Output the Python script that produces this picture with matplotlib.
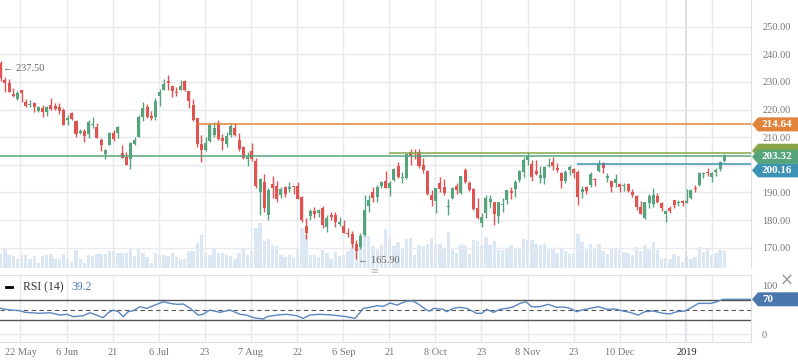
import matplotlib
matplotlib.use("Agg")
import matplotlib.pyplot as plt
from matplotlib.lines import Line2D
from matplotlib.patches import Polygon
import numpy as np

# daily OHLC, oldest first
opens = [
    237.0, 230.7, 229.6, 225.6, 223.7, 227.1, 222.7, 221.6, 222.3, 219.5,
    220.4, 219.3, 221.6, 221.4, 221.0, 219.8, 216.1, 218.8, 216.0, 211.6,
    212.4, 211.2, 214.3, 213.8, 209.0, 203.9, 207.0, 211.7, 211.5, 204.4,
    203.0, 202.0, 207.5, 210.2, 217.2, 220.8, 217.7, 217.4, 225.0, 227.1,
    230.2, 228.4, 226.5, 227.1, 230.2, 226.7, 221.6, 216.8, 207.5, 205.3,
    208.6, 210.7, 215.2, 209.8, 207.5, 210.8, 213.4, 209.0, 206.3, 202.0,
    205.0, 201.4, 190.0, 193.9, 182.0, 193.1, 192.5, 189.2, 191.8, 191.3,
    192.3, 192.4, 188.4, 177.8, 181.6, 183.4, 182.4, 184.2, 177.6, 181.8,
    181.8, 178.7, 177.8, 175.4, 174.9, 171.5, 170.4, 174.7, 185.1, 190.0,
    188.5, 192.5, 194.1, 191.5, 194.5, 199.5, 195.3, 195.1, 204.7, 204.4,
    204.7, 199.9, 197.7, 189.1, 187.0, 193.5, 191.8, 184.7, 187.9, 192.4,
    189.7, 198.1, 193.5, 191.2, 184.5, 179.1, 182.7, 186.7, 186.7, 181.6,
    185.5, 187.3, 190.4, 191.4, 194.5, 197.5, 201.7, 200.3, 197.7, 195.3,
    195.3, 199.6, 201.0, 198.9, 197.0, 194.1, 198.0, 198.5, 197.5, 190.3,
    191.9, 192.7, 194.9, 197.7, 200.6, 195.2, 194.0, 193.6, 193.0, 192.3,
    193.2, 190.3, 188.7, 184.6, 180.9, 186.3, 185.9, 188.7, 186.1, 182.1,
    184.2, 187.4, 186.2, 186.9, 186.3, 187.9, 191.5, 192.7, 196.5, 197.3,
    195.7, 197.5, 198.5, 201.4]
highs = [
    237.5, 231.7, 231.0, 227.7, 226.7, 227.2, 223.9, 223.5, 222.8, 221.4,
    221.6, 221.3, 224.3, 222.4, 222.5, 220.4, 218.0, 219.2, 216.2, 213.0,
    213.0, 216.2, 217.4, 215.0, 209.6, 205.9, 212.0, 212.6, 214.0, 207.0,
    204.8, 208.1, 210.2, 218.0, 222.8, 222.2, 219.6, 224.1, 227.4, 231.0,
    232.4, 228.6, 228.0, 230.7, 230.6, 226.7, 223.8, 217.1, 210.8, 210.2,
    215.0, 215.6, 216.2, 211.3, 212.0, 215.0, 215.0, 211.4, 206.8, 204.7,
    207.8, 202.4, 195.3, 196.7, 191.5, 195.9, 194.2, 191.8, 192.4, 193.9,
    192.4, 193.7, 188.8, 180.6, 183.9, 184.6, 184.0, 185.1, 181.8, 183.0,
    182.8, 181.0, 180.0, 177.0, 176.1, 172.7, 175.2, 189.1, 189.1, 192.1,
    192.7, 194.1, 197.8, 194.1, 198.7, 201.1, 197.4, 204.1, 205.6, 205.6,
    205.7, 202.3, 198.1, 190.9, 191.7, 195.7, 194.7, 187.6, 192.1, 193.4,
    195.9, 198.9, 194.1, 191.7, 187.9, 182.5, 189.1, 188.9, 186.7, 186.7,
    187.9, 190.9, 192.1, 194.6, 198.1, 202.9, 204.7, 201.7, 201.7, 199.6,
    199.6, 202.3, 203.0, 200.7, 197.5, 198.1, 199.9, 198.7, 198.1, 192.3,
    192.3, 197.4, 195.2, 201.7, 200.9, 196.9, 194.5, 196.5, 193.6, 193.4,
    193.6, 191.1, 189.1, 186.9, 186.7, 189.3, 191.5, 189.9, 186.7, 183.6,
    185.2, 187.4, 187.4, 187.4, 191.1, 191.2, 192.7, 197.3, 197.5, 199.0,
    197.5, 199.0, 201.4, 203.8]
lows = [
    230.5, 226.5, 226.5, 224.7, 223.5, 222.8, 220.9, 221.0, 219.0, 219.3,
    217.2, 217.7, 219.8, 219.8, 218.3, 214.3, 214.4, 216.4, 210.2, 211.2,
    208.4, 209.6, 213.2, 209.6, 205.1, 202.2, 207.0, 208.7, 209.6, 202.6,
    199.9, 198.5, 207.0, 210.0, 216.0, 216.8, 216.3, 216.3, 221.4, 227.0,
    227.0, 224.5, 225.0, 227.1, 226.8, 220.4, 215.9, 206.6, 201.1, 205.0,
    208.4, 210.2, 208.9, 205.3, 206.6, 210.2, 210.6, 205.0, 202.0, 199.7,
    201.4, 191.5, 181.8, 183.0, 179.9, 187.9, 186.7, 188.1, 188.5, 190.3,
    189.4, 187.6, 179.4, 173.0, 180.2, 180.6, 181.2, 177.3, 175.8, 180.2,
    177.6, 178.0, 175.2, 173.7, 170.0, 165.9, 169.5, 174.1, 182.8, 186.7,
    186.7, 191.5, 191.5, 188.8, 194.1, 195.3, 193.5, 194.7, 200.0, 202.0,
    198.7, 196.9, 189.1, 185.2, 182.7, 190.0, 189.1, 182.0, 187.6, 189.3,
    189.3, 193.3, 190.6, 183.6, 180.4, 177.4, 180.6, 184.5, 178.2, 178.8,
    183.0, 185.9, 187.7, 188.5, 193.9, 195.5, 199.9, 194.1, 196.3, 193.5,
    193.0, 199.3, 198.2, 197.5, 191.7, 193.5, 196.3, 195.1, 185.5, 188.1,
    189.4, 191.9, 192.5, 197.5, 197.0, 193.9, 190.3, 192.1, 190.3, 190.5,
    190.0, 188.5, 183.7, 182.1, 180.4, 184.5, 184.8, 186.1, 183.3, 179.2,
    182.4, 184.2, 185.1, 185.2, 186.1, 187.6, 190.3, 192.3, 195.1, 195.9,
    193.9, 196.1, 197.9, 200.9]
closes = [
    231.5, 229.5, 226.5, 225.0, 226.1, 226.1, 221.3, 222.0, 221.1, 221.0,
    219.3, 221.0, 220.2, 220.1, 219.5, 214.4, 216.8, 216.6, 211.2, 212.4,
    210.4, 215.6, 214.7, 209.8, 207.2, 205.4, 211.5, 209.3, 213.8, 202.6,
    200.0, 207.8, 209.0, 217.3, 220.5, 217.4, 216.8, 223.1, 226.5, 229.4,
    229.7, 226.8, 226.0, 228.6, 227.1, 223.2, 216.2, 207.5, 205.3, 207.8,
    214.4, 213.2, 209.3, 208.6, 210.4, 214.0, 210.8, 205.7, 202.3, 203.0,
    202.0, 192.3, 194.8, 184.5, 190.9, 191.5, 187.6, 191.2, 189.4, 191.8,
    192.0, 187.6, 180.0, 175.4, 183.4, 182.1, 183.7, 178.2, 180.9, 181.0,
    179.4, 179.4, 175.4, 174.9, 171.5, 168.8, 174.3, 183.6, 187.3, 188.1,
    192.1, 193.9, 191.5, 193.5, 198.5, 195.7, 195.7, 204.1, 203.2, 204.0,
    199.6, 198.1, 189.3, 187.3, 191.5, 191.2, 189.9, 185.0, 191.7, 190.9,
    195.9, 193.9, 190.9, 183.9, 180.6, 181.0, 187.9, 187.6, 182.2, 186.4,
    185.9, 190.9, 189.8, 193.7, 197.7, 201.7, 203.2, 195.7, 196.7, 196.3,
    199.3, 200.0, 199.4, 198.0, 194.1, 197.5, 199.3, 197.2, 188.5, 191.3,
    190.4, 196.5, 194.5, 200.2, 199.0, 195.9, 192.1, 195.0, 192.0, 192.8,
    190.5, 189.1, 184.8, 182.2, 186.7, 188.7, 189.1, 186.7, 184.2, 183.4,
    183.4, 185.4, 186.7, 186.3, 186.9, 190.9, 191.1, 196.9, 196.9, 196.9,
    196.9, 198.0, 201.1, 203.3]
volume = [
    43, 60, 40, 35, 28, 38, 40, 28, 35, 16, 35, 40, 41, 26, 26, 41, 28, 18, 53, 28,
    16, 38, 36, 41, 43, 41, 50, 50, 44, 44, 44, 61, 35, 56, 44, 32, 16, 44, 40, 40,
    35, 46, 32, 28, 28, 50, 50, 76, 98, 44, 40, 61, 46, 44, 38, 35, 28, 44, 56, 40,
    50, 120, 135, 80, 86, 68, 65, 40, 32, 40, 32, 53, 120, 98, 40, 40, 32, 53, 44, 26,
    48, 35, 38, 50, 60, 53, 78, 98, 95, 65, 53, 68, 118, 95, 65, 78, 58, 86, 90, 38,
    68, 65, 73, 90, 72, 72, 60, 108, 53, 46, 68, 68, 41, 83, 80, 68, 92, 68, 80, 53,
    53, 56, 68, 60, 56, 86, 83, 83, 71, 68, 71, 53, 56, 44, 56, 50, 41, 44, 101, 77,
    53, 71, 60, 71, 50, 41, 56, 56, 53, 47, 44, 38, 62, 50, 68, 53, 77, 53, 26, 29,
    26, 41, 35, 18, 35, 26, 32, 62, 47, 56, 38, 44, 53, 50]

# RSI(14) trace, sampled at bar positions
rsi_x = [0, 2.2, 4.6, 5.8, 9.4, 11.8, 14.2, 15.8, 17.4, 19.7, 21.3, 22.9, 24.5, 25.7,
         26.9, 28.1, 29.3, 30.5, 31.7, 33.3, 34.9, 36.5, 38.9, 40.5, 42.1, 43.7, 45.3,
         47.2, 48.4, 50.0, 52.4, 54.8, 57.2, 58.8, 60.4, 62.8, 63.6, 66.0, 68.4, 70.8,
         72.3, 73.9, 76.3, 79.5, 82.7, 84.7, 86.7, 88.3, 89.9, 91.5, 93.1, 94.7, 97.1,
         98.6, 100.2, 101.8, 102.6, 103.4, 105.8, 106.6, 108.2, 109.8, 111.4, 113.8,
         115.0, 116.2, 117.8, 119.4, 121.0, 122.5, 124.1, 125.6, 126.9, 128.9, 130.9,
         132.9, 134.5, 136.1, 137.7, 138.9, 140.9, 142.9, 144.9, 146.9, 148.8, 150.4,
         152.4, 154.0, 156.0, 158.4, 160.0, 161.6, 163.6, 165.2, 166.8, 169.6, 170.8,
         172.7, 179.4]
rsi_y = [52.7, 49.3, 47.9, 44.6, 42.6, 43.8, 39.0, 40.6, 35.7, 37.7, 43.8, 39.0, 33.7, 43.8,
         49.0, 45.9, 35.7, 45.9, 47.9, 56.0, 52.7, 58.0, 66.1, 62.7, 60.8, 61.4, 52.7,
         39.0, 40.6, 49.3, 44.6, 49.3, 40.6, 39.0, 33.7, 31.0, 35.7, 39.0, 40.6, 37.7,
         32.3, 39.0, 40.6, 39.0, 35.7, 32.3, 52.7, 54.7, 58.0, 56.7, 63.5, 59.4, 67.5,
         67.5, 59.4, 49.3, 47.2, 52.7, 50.7, 45.9, 52.7, 54.7, 52.7, 42.6,
         42.6, 50.7, 44.6, 50.7, 52.7, 55.4, 62.7, 66.1, 56.0, 56.0, 60.8,
         54.7, 55.4, 52.7, 45.9, 49.3, 52.7, 56.0, 50.7, 51.3, 47.2, 44.6,
         39.0, 45.9, 47.2, 42.6, 41.4, 45.9, 47.2, 54.7, 62.7, 62.7, 64.8,
         71.0, 71.0]

# date grid (bar positions) and labels
grid_pos = [4.73, 15.75, 26.77, 37.8, 48.8, 59.8, 70.9, 81.9, 92.9, 103.9,
            114.9, 126.0, 137.0, 148.0, 159.0, 170.0]
grid_labels = ["22 May", "6 Jun", "21", "6 Jul", "23", "7 Aug", "22", "6 Sep", "21",
               "8 Oct", "23", "8 Nov", "23", "10 Dec", "", ""]
year_pos = 163.95
year_label = "2019"
price_ticks = [170, 180, 190, 200, 210, 220, 230, 240, 250]
hidden_ticks = [200]  # covered by the value tags in the original

# horizontal levels: (price, start bar, colour, tag text, tag price)
levels = [
    (200.16, 137.8, "#3d93b3", "200.16", 198.0),
    (204.2, 92.8, "#88a54a", "", 205.1),
    (203.32, -1, "#55a57c", "203.32", 202.9),
    (214.64, 47.0, "#e0843c", "214.64", 214.64),
]

GREEN = "#55a47c"
RED = "#e05350"
GRID = "#e7eaee"
FONT = ["Liberation Serif", "DejaVu Serif"]

plt.rcParams["font.family"] = FONT

W, H = 798, 363
fig = plt.figure(figsize=(W / 100, H / 100), dpi=100)
ax = fig.add_axes([0, 1 - 268 / H, 751 / W, 268 / H])
axv = ax.twinx()
axr = fig.add_axes([0, 1 - 342 / H, 751 / W, 67 / H])

xlim = (-0.17, 179.37)
o = np.array(opens); h = np.array(highs); l = np.array(lows); c = np.array(closes)
idx = np.arange(len(o))
cols = np.where(c >= o, GREEN, RED)

# volume behind candles
axv.bar(idx, volume, width=0.8, color="#dbe7f2", linewidth=0)
axv.set_ylim(0, 804)
axv.axis("off")
ax.set_zorder(axv.get_zorder() + 1)
ax.patch.set_visible(False)

ax.vlines(idx, l, h, colors=cols, lw=1, zorder=3)
ax.bar(idx, np.maximum(np.abs(c - o), 0.3), bottom=np.minimum(o, c), width=0.72,
       color=cols, linewidth=0, zorder=4)

ax.set_xlim(*xlim)
ax.set_ylim(162.65, 259.67)
ax.set_yticks(price_ticks)
ax.set_yticklabels(["" if p in hidden_ticks else f"{p:.2f}" for p in price_ticks])
ax.yaxis.tick_right()
ax.tick_params(axis="y", length=0, pad=8, labelsize=7.5, labelcolor="#777777")
ax.set_xticks(grid_pos)
ax.tick_params(axis="x", length=0, labelbottom=False)
ax.grid(True, color=GRID, lw=1, zorder=0)
ax.axvline(year_pos, color="#d6dade", lw=1.2, zorder=0)
for s in ["top", "left", "bottom"]:
    ax.spines[s].set_visible(False)
ax.spines["right"].set_color("#dcdfe3")

for price, start, col, txt, tag_y in levels:
    ax.hlines(price, start, xlim[1], colors=col, lw=1.1, zorder=5)

# extremes
ax.annotate("\u2190 237.50", xy=(0, 237.5), xytext=(2, -5), textcoords="offset points",
            ha="left", va="center", fontsize=7.5, color="#666666", zorder=6)
ax.annotate("\u2190 165.90", xy=(85, 165.9), xytext=(1, -1), textcoords="offset points",
            ha="left", va="center", fontsize=7.5, color="#666666", zorder=6)

# RSI panel
axr.plot(rsi_x, rsi_y, color="#5a86c0", lw=1, zorder=3)
axr.axhline(70, color="#555555", lw=1)
axr.axhline(30, color="#555555", lw=1)
axr.axhline(50, color="#555555", lw=0.8, ls=(0, (4, 3)))
axr.axhline(0, color=GRID, lw=1, zorder=0)
axr.set_xlim(*xlim)
axr.set_ylim(-15.6, 120.3)
axr.set_xticks(grid_pos + [year_pos])
axr.set_xticklabels(grid_labels + [year_label])
axr.tick_params(axis="x", length=0, pad=4, labelsize=7.5, labelcolor="#777777")
axr.get_xticklabels()[-1].set_color("#222222")
axr.grid(True, axis="x", color=GRID, lw=1, zorder=0)
axr.axvline(year_pos, color="#d6dade", lw=1.2, zorder=0)
axr.yaxis.tick_right()
axr.set_yticks([0, 100])
axr.set_yticklabels(["0", "100"])
axr.tick_params(axis="y", length=0, pad=8, labelsize=7.5, labelcolor="#777777")
axr.spines["left"].set_visible(False)
for s in ["top", "bottom", "right"]:
    axr.spines[s].set_color("#dcdfe3")


def price_tag(axis, value, text, color):
    """Arrow-shaped value tag at the right edge of an axis, in figure pixels."""
    y = axis.transData.transform((0, value))[1]
    x0 = axis.get_position().x1 * W + 1
    pts = [(x0, y), (x0 + 6, y + 7), (W + 2, y + 7), (W + 2, y - 7), (x0 + 6, y - 7)]
    fig.add_artist(Polygon([(px / W, py / H) for px, py in pts], closed=True,
                           transform=fig.transFigure, fc=color, ec="none"))
    if text:
        fig.text((x0 + 10) / W, y / H, text, color="white", fontsize=8,
                 fontweight="bold", ha="left", va="center")


for price, start, col, txt, tag_y in levels:
    price_tag(ax, tag_y, txt, col)
price_tag(axr, 71, "70", "#4a77ad")

# RSI legend and small controls
fig.add_artist(Line2D([6 / W, 12 / W], [1 - 287 / H] * 2, color="black", lw=2))
fig.text(23 / W, 1 - 287 / H, "RSI (14)", fontsize=8.5, color="#333333", va="center")
fig.text(71 / W, 1 - 287 / H, "39.2", fontsize=8.5, color="#4a78b5", va="center")
fig.text(787 / W, 1 - 281 / H, "\u00d7", fontsize=12, color="#999999", ha="center",
         va="center", family="DejaVu Sans")
fig.text(375 / W, 1 - 271 / H, "\u2261", fontsize=7, color="#bbbbbb", ha="center",
         va="center", family="DejaVu Sans")

fig.savefig("out.png", dpi=100)
